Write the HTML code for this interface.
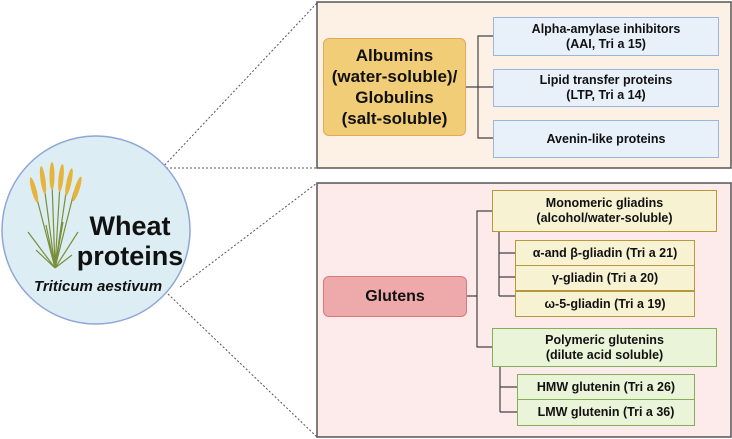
<!DOCTYPE html>
<html><head><style>
body{margin:0;width:732px;height:439px;background:#fff;font-family:"Liberation Sans",sans-serif;position:relative;overflow:hidden}
.b{position:absolute;box-sizing:border-box;display:flex;align-items:center;justify-content:center;text-align:center;font-weight:bold;color:#111;line-height:1.2}
</style></head><body>
<svg width="732" height="439" style="position:absolute;left:0;top:0">
<g stroke="#555" stroke-dasharray="2,2" stroke-width="1" fill="none">
<line x1="162" y1="168" x2="317" y2="3"/><line x1="162" y1="168" x2="317" y2="168"/>
<line x1="180" y1="287" x2="317" y2="183"/><line x1="168" y1="294" x2="317" y2="437"/>
</g>
<circle cx="96" cy="230" r="94" fill="#dcedf3" stroke="#8fa6d8" stroke-width="1.5"/>
<rect x="317" y="2" width="414" height="166" fill="#fdf1e6" stroke="#555" stroke-width="1.5"/>
<rect x="317" y="183" width="414" height="254" fill="#fdeaea" stroke="#555" stroke-width="1.5"/>
<g stroke="#444" stroke-width="1.2" fill="none">
<path d="M465 87H478M493 36H478V138H493M478 87H493"/>
<path d="M466 296H477M492 211H477V347H492"/>
<path d="M499 231V296M499 253H515M499 277H515M499 296H515"/>
<path d="M500 366V412M500 387H517M500 412H517"/>
</g>
<!-- wheat -->
<g stroke="#7a8f3a" stroke-width="1.2" fill="none">
<path d="M55 268L36 195M55 268L44 185M55 268L52 182M55 268L60 184M55 268L67 186M55 268L74 192M55 268L28 232M55 268L78 232M55 268L36 250M55 268L72 255M55 268L46 225M55 268L63 222"/>
</g>
<g fill="#e6b43c">
<ellipse cx="34" cy="190" rx="2.5" ry="13" transform="rotate(-15 34 190)"/>
<ellipse cx="43" cy="180" rx="2.5" ry="14" transform="rotate(-8 43 180)"/>
<ellipse cx="52" cy="176" rx="2.5" ry="14"/>
<ellipse cx="61" cy="178" rx="2.5" ry="14" transform="rotate(6 61 178)"/>
<ellipse cx="69" cy="182" rx="2.5" ry="14" transform="rotate(12 69 182)"/>
<ellipse cx="77" cy="189" rx="2.5" ry="13" transform="rotate(18 77 189)"/>
</g>
</svg>
<div class="b" style="left:78px;top:211px;width:104px;font-size:27px;line-height:30px;color:#111">Wheat<br>proteins</div>
<div class="b" style="left:2px;top:278px;width:192px;font-size:15px;font-style:italic">Triticum aestivum</div>

<div class="b" style="left:323px;top:38px;width:143px;height:98px;background:#f2cd78;border:1.5px solid #e4a95a;border-radius:6px;font-size:17px;line-height:21px">Albumins<br>(water-soluble)/<br>Globulins<br>(salt-soluble)</div>
<div class="b" style="left:493px;top:17px;width:226px;height:39px;background:#e8f0fa;border:1.5px solid #9bb5dd;font-size:12.5px">Alpha-amylase inhibitors<br>(AAI, Tri a 15)</div>
<div class="b" style="left:493px;top:69px;width:226px;height:38px;background:#e8f0fa;border:1.5px solid #9bb5dd;font-size:12.5px">Lipid transfer proteins<br>(LTP, Tri a 14)</div>
<div class="b" style="left:493px;top:120px;width:226px;height:38px;background:#e8f0fa;border:1.5px solid #9bb5dd;font-size:12.5px">Avenin-like proteins</div>

<div class="b" style="left:323px;top:276px;width:144px;height:41px;background:#eeaaaa;border:1.5px solid #d87a7a;border-radius:6px;font-size:16px">Glutens</div>
<div class="b" style="left:492px;top:190px;width:225px;height:42px;background:#f7f2d2;border:1.5px solid #b8983e;font-size:12.5px">Monomeric gliadins<br>(alcohol/water-soluble)</div>
<div class="b" style="left:515px;top:240px;width:180px;height:26px;background:#f7f2d2;border:1.5px solid #b8983e;font-size:12.5px">α-and β-gliadin (Tri a 21)</div>
<div class="b" style="left:515px;top:265px;width:180px;height:26px;background:#f7f2d2;border:1.5px solid #b8983e;font-size:12.5px">γ-gliadin (Tri a 20)</div>
<div class="b" style="left:515px;top:291px;width:180px;height:26px;background:#f7f2d2;border:1.5px solid #b8983e;font-size:12.5px">ω-5-gliadin (Tri a 19)</div>
<div class="b" style="left:492px;top:328px;width:225px;height:39px;background:#e9f4d9;border:1.5px solid #86ad5a;font-size:12.5px">Polymeric glutenins<br>(dilute acid soluble)</div>
<div class="b" style="left:517px;top:374px;width:178px;height:26px;background:#e9f4d9;border:1.5px solid #86ad5a;font-size:12.5px">HMW glutenin (Tri a 26)</div>
<div class="b" style="left:517px;top:399px;width:178px;height:27px;background:#e9f4d9;border:1.5px solid #86ad5a;font-size:12.5px">LMW glutenin (Tri a 36)</div>
</body></html>
